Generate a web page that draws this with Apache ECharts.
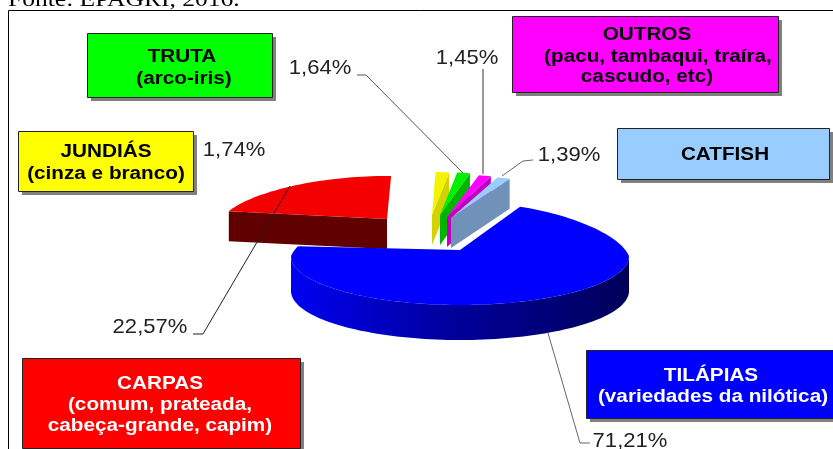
<!DOCTYPE html>
<html><head><meta charset="utf-8">
<style>html,body{margin:0;padding:0;background:#fff}#c{width:833px;height:449px}</style>
<script src="https://cdn.jsdelivr.net/npm/echarts@6/dist/echarts.min.js"></script>
</head><body><div id="c"></div>
<script>
const categories = ['CARPAS','JUNDIÁS','TRUTA','OUTROS','CATFISH','TILÁPIAS'];
const shares = [22.57,1.74,1.64,1.45,1.39,71.21];
const sourceNote = 'Fonte: EPAGRI, 2016.';
const boxText = [
  ['CARPAS','(comum, prateada,','cabeça-grande, capim)'],
  ['JUNDIÁS','(cinza e branco)'],
  ['TRUTA','(arco-iris)'],
  ['OUTROS','(pacu, tambaqui, traíra,','cascudo, etc)'],
  ['CATFISH'],
  ['TILÁPIAS','(variedades da nilótica)']
];

const firstAngle = 280.4;
const shape = [
  {ax:387,ay:219,rx:165,k:.14,off:0,rb:43,rf:50,d:30,top:'#f40000',wall:'#600000',box:'#ff0000',ink:'#fff'},
  {ax:432,ay:215,rx:145,k:.14,off:0,rb:43,rf:50,d:30,top:'#f4f400',wall:'#d2d200',box:'#ffff00',ink:'#000'},
  {ax:440,ay:215,rx:145,k:.14,off:0,rb:43,rf:50,d:30,top:'#00f000',wall:'#00b400',box:'#00ff00',ink:'#000'},
  {ax:447,ay:217,rx:155,k:.14,off:0,rb:43,rf:50,d:30,top:'#ff00ff',wall:'#c000c0',box:'#ff00ff',ink:'#000'},
  {ax:451,ay:218,rx:165,k:.14,off:0,rb:43,rf:50,d:30,top:'#99ccff',wall:'#7092b8',box:'#99ccff',ink:'#000'},
  {ax:460,ay:250,rx:169,k:.14,off:6,rb:54,rf:49,d:35,top:'#0000ff',wall:null,box:'#0000ff',ink:'#fff'}
];
const boxes = [
  {x:22,y:358,w:278,h:90,lines:[[160,384],[160,405],[160,426]]},
  {x:18,y:131,w:175,h:60,lines:[[106,152],[106,174]]},
  {x:87,y:33,w:185,h:64,lines:[[182,57],[184,79]]},
  {x:512,y:16,w:266,h:76,lines:[[647,35],[658,57],[647,77]]},
  {x:617,y:128,w:212,h:51,lines:[[725,155]]},
  {x:586,y:350,w:247,h:68,lines:[[711,376],[713,397]]}
];
const pctPos = [[150,327],[234,150],[320,68],[467,58],[569,155],[630,441]];
const leaders = [
  {c:'#222',p:[[193,334],[203,334],[290,186]]},
  {c:'#555',p:[[357,75],[366,75],[463,173]]},
  {c:'#333',p:[[483,69],[483,174]]},
  {c:'#666',p:[[533,160],[523,161],[502,176]]},
  {c:'#666',p:[[548,333],[580,443],[590,443]]}
];

const rad = d => d*Math.PI/180;
function rim(s,deg){
  const a=rad(deg),c=Math.cos(a),sn=Math.sin(a);
  return [s.ax+s.rx*sn*(1-(c>0?s.k*c:0)), s.ay+s.off-c*(c>0?s.rb:s.rf)];
}
function arc(s,a,b){
  const pts=[],n=Math.max(4,Math.ceil(Math.abs(b-a)/2));
  for(let i=0;i<=n;i++)pts.push(rim(s,a+(b-a)*i/n));
  return pts;
}
const total = shares.reduce((a,b)=>a+b,0);
function startOf(i){let t=0;for(let j=0;j<i;j++)t+=shares[j];return firstAngle+t/total*360;}

function renderSlice(params,api){
  const i=params.dataIndex,s=shape[i],v=api.value(0);
  const a=startOf(i),b=a+v/total*360,apex=[s.ax,s.ay];
  const kids=[];
  const norm=((a%360)+360)%360;
  if(s.wall===null){
    const front=arc(s,450,Math.min(b,630));
    const low=front.slice().reverse().map(p=>[p[0],p[1]+s.d]);
    kids.push({type:'polygon',shape:{points:front.concat(low)},style:{
      fill:new echarts.graphic.LinearGradient(0,0,1,0,[
        {offset:0,color:'#0000f2'},{offset:.45,color:'#0000a0'},{offset:1,color:'#00005a'}])}});
  } else {
    const cut=norm>180?a:b;
    const r=rim(s,cut);
    kids.push({type:'polygon',shape:{points:[apex,r,[r[0],r[1]+s.d],[apex[0],apex[1]+s.d]]},style:{fill:s.wall}});
  }
  kids.push({type:'polygon',shape:{points:[apex].concat(arc(s,a,b))},style:{fill:s.top}});
  return {type:'group',children:kids};
}

const g=[];
g.push({type:'text',x:8,y:11,scaleX:1.16,style:{text:sourceNote,font:'22px "Liberation Serif"',fill:'#000',textVerticalAlign:'bottom'}});
g.push({type:'polyline',shape:{points:[[8.5,449],[8.5,10.5],[833,10.5]]},style:{fill:null,stroke:'#000',lineWidth:1}});
leaders.forEach(l=>g.push({type:'polyline',z:5,shape:{points:l.p},style:{fill:null,stroke:l.c,lineWidth:1}}));
boxes.forEach((b,i)=>{
  g.push({type:'rect',z:6,shape:{x:b.x+4,y:b.y+4,width:b.w,height:b.h},style:{fill:'#808080'}});
  g.push({type:'rect',z:7,shape:{x:b.x+.5,y:b.y+.5,width:b.w,height:b.h},style:{fill:shape[i].box,stroke:'#222',lineWidth:1}});
  boxText[i].forEach((t,j)=>g.push({type:'text',z:8,x:b.lines[j][0],y:b.lines[j][1],scaleX:1.15,style:{text:t,font:'bold 18px "Liberation Sans"',fill:shape[i].ink,textAlign:'center',textVerticalAlign:'middle'}}));
  g.push({type:'text',z:8,x:pctPos[i][0],y:pctPos[i][1],scaleX:1.05,style:{text:shares[i].toFixed(2).replace('.',',')+'%',font:'21px "Liberation Sans"',fill:'#222',textAlign:'center',textVerticalAlign:'middle'}});
});

const chart=echarts.init(document.getElementById('c'),null,{renderer:'canvas'});
chart.setOption({
  animation:false,
  backgroundColor:'#fff',
  graphic:{elements:g},
  series:[{type:'custom',coordinateSystem:'none',renderItem:renderSlice,z:2,
    data:shares.map((v,i)=>({name:categories[i],value:[v]}))}]
});
</script></body></html>
